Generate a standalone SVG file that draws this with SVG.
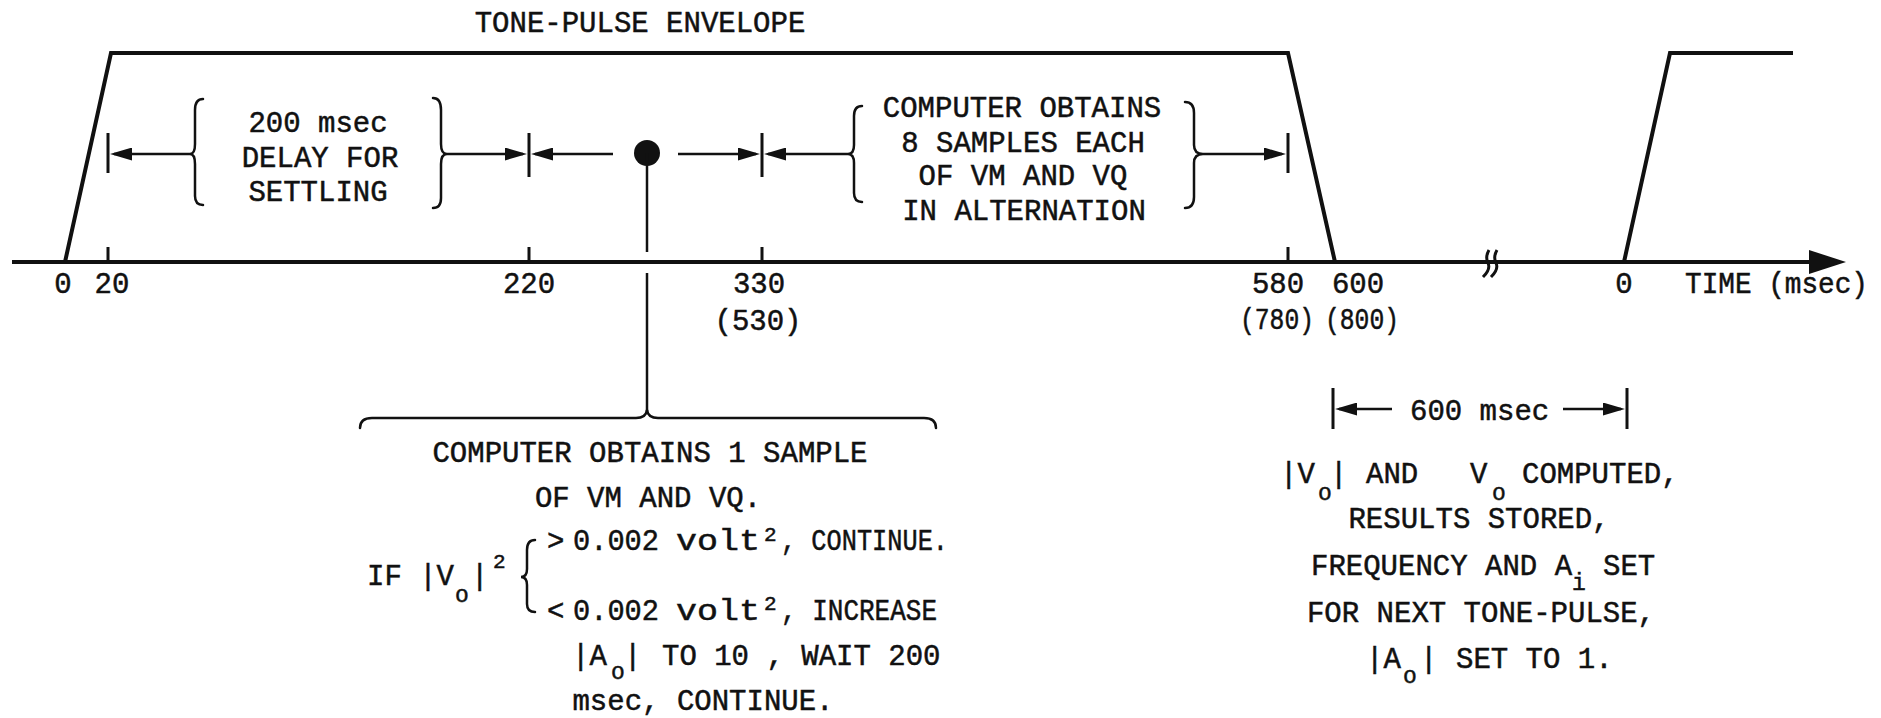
<svg xmlns="http://www.w3.org/2000/svg" width="1881" height="718" viewBox="0 0 1881 718">
<style>
.t{font-family:"Liberation Mono","DejaVu Sans Mono",monospace;font-size:29px;fill:#111;stroke:#111;stroke-width:0.5}
.m{text-anchor:middle}
.s{font-size:23px}
.p{font-size:21px}
.thick{fill:none;stroke:#111;stroke-width:4;stroke-linejoin:miter}
.bar{fill:none;stroke:#111;stroke-width:3}
.ln{fill:none;stroke:#111;stroke-width:2.5}
.br{fill:none;stroke:#111;stroke-width:2.5;stroke-linecap:round}
</style>
<defs>
<marker id="ah" viewBox="0 0 10 10" refX="8.2" refY="5" markerWidth="22" markerHeight="13" markerUnits="userSpaceOnUse" preserveAspectRatio="none" orient="auto">
<path d="M0,0 L10,5 L0,10 z" fill="#111"/>
</marker>
</defs>
<rect width="1881" height="718" fill="#fff"/>

<g id="envelope">
<line class="thick" x1="12" y1="262" x2="1815" y2="262"/>
<polygon points="1846,262 1809,250 1809,274" fill="#111"/>
<polyline class="thick" points="65,262 111,53 1288,53 1335,262"/>
<polyline class="thick" points="1624,262 1670,53 1793,53"/>
<line class="bar" x1="108" y1="247" x2="108" y2="262"/>
<line class="bar" x1="529" y1="247" x2="529" y2="262"/>
<line class="bar" x1="762" y1="247" x2="762" y2="262"/>
<line class="bar" x1="1288" y1="247" x2="1288" y2="262"/>
<path class="bar" d="M1489,250 Q1485,257 1488,263 Q1491,269 1483,277"/>
<path class="bar" d="M1497,250 Q1493,257 1496,263 Q1499,269 1491,277"/>
</g>

<g id="title">
<text class="t m" x="640" y="32">TONE-PULSE ENVELOPE</text>
</g>

<g id="axis-labels">
<text class="t m" x="63" y="293">0</text>
<text class="t m" x="112" y="293">20</text>
<text class="t m" x="529" y="293">220</text>
<text class="t m" x="759" y="293">330</text>
<text class="t m" x="758" y="330">(530)</text>
<text class="t m" x="1278" y="293">580</text>
<text class="t m" x="1358" y="293">600</text>
<text class="t" x="1240" y="329" textLength="74" lengthAdjust="spacingAndGlyphs">(780)</text>
<text class="t" x="1325" y="329" textLength="74" lengthAdjust="spacingAndGlyphs">(800)</text>
<text class="t m" x="1624" y="293">0</text>
<text class="t" x="1685" y="293" textLength="183" lengthAdjust="spacingAndGlyphs">TIME (msec)</text>
</g>

<g id="delay-note">
<path class="br" d="M203,99 Q195,99 195,110 L195,144 Q195,154 190,154 Q195,154 195,164 L195,196 Q195,205 203,205"/>
<path class="br" d="M433,98 Q441,98 441,110 L441,144 Q441,154 447,154 Q441,154 441,164 L441,198 Q441,208 433,208"/>
<text class="t m" x="318" y="132">200 msec</text>
<text class="t m" x="320" y="167">DELAY FOR</text>
<text class="t m" x="318" y="201">SETTLING</text>
</g>

<g id="samples-note">
<path class="br" d="M862,106 Q854,106 854,116 L854,145 Q854,154 848,154 Q854,154 854,163 L854,193 Q854,202 862,202"/>
<path class="br" d="M1185,102 Q1194,102 1194,113 L1194,145 Q1194,154 1203,154 Q1194,154 1194,163 L1194,197 Q1194,208 1185,208"/>
<text class="t m" x="1022" y="117">COMPUTER OBTAINS</text>
<text class="t m" x="1023" y="152">8 SAMPLES EACH</text>
<text class="t m" x="1023" y="185">OF VM AND VQ</text>
<text class="t m" x="1024" y="220">IN ALTERNATION</text>
</g>

<g id="single-sample-note">
<circle cx="647" cy="153" r="13" fill="#111"/>
<line class="ln" x1="647" y1="153" x2="647" y2="252"/>
<line class="ln" x1="647" y1="273" x2="647" y2="411"/>
<path class="br" d="M360,428 Q360,418 372,418 L636,418 Q646,418 647,410 Q648,418 658,418 L924,418 Q936,418 936,428"/>
<text class="t m" x="650" y="462">COMPUTER OBTAINS 1 SAMPLE</text>
<text class="t m" x="648" y="507">OF VM AND VQ.</text>
<text class="t" x="367" y="585">IF |V</text>
<text class="t s" x="455" y="602">o</text>
<text class="t" x="471" y="585">|</text>
<text class="t p" x="493" y="568">2</text>
<path class="br" d="M535,540 Q527,540 527,550 L527,569 Q527,577 521,577 Q527,577 527,585 L527,604 Q527,612 535,612"/>
<text class="t" x="547" y="550">&gt;</text>
<text class="t" x="573" y="550" textLength="86" lengthAdjust="spacingAndGlyphs">0.002</text>
<text class="t" x="676" y="550" textLength="84" lengthAdjust="spacingAndGlyphs">volt</text>
<text class="t p" x="764" y="541">2</text>
<text class="t" x="781" y="550" textLength="167" lengthAdjust="spacingAndGlyphs">, CONTINUE.</text>
<text class="t" x="547" y="620">&lt;</text>
<text class="t" x="573" y="620" textLength="86" lengthAdjust="spacingAndGlyphs">0.002</text>
<text class="t" x="676" y="620" textLength="84" lengthAdjust="spacingAndGlyphs">volt</text>
<text class="t p" x="764" y="610">2</text>
<text class="t" x="781" y="620" textLength="156" lengthAdjust="spacingAndGlyphs">, INCREASE</text>
<text class="t" x="572" y="665">|A</text>
<text class="t s" x="611" y="679">o</text>
<text class="t" x="624" y="665">|</text>
<text class="t" x="662" y="665">TO 10 , WAIT 200</text>
<text class="t m" x="703" y="710">msec, CONTINUE.</text>
</g>

<g id="compute-note">
<text class="t" x="1410" y="420">600 msec</text>
<text class="t" x="1280" y="483">|V</text>
<text class="t s" x="1318" y="500">o</text>
<text class="t" x="1330" y="483">|</text>
<text class="t" x="1366" y="483">AND</text>
<text class="t" x="1470" y="483">V</text>
<text class="t s" x="1492" y="500">o</text>
<text class="t" x="1522" y="483">COMPUTED,</text>
<text class="t m" x="1479" y="528">RESULTS STORED,</text>
<text class="t" x="1311" y="575">FREQUENCY AND A</text>
<text class="t s" x="1572" y="590">i</text>
<text class="t" x="1603" y="575">SET</text>
<text class="t m" x="1481" y="622">FOR NEXT TONE-PULSE,</text>
<text class="t" x="1366" y="668">|A</text>
<text class="t s" x="1403" y="683">o</text>
<text class="t" x="1420" y="668">|</text>
<text class="t" x="1456" y="668">SET TO 1.</text>
</g>

<g id="connectors">
<line class="bar" x1="108" y1="133" x2="108" y2="173"/>
<line class="bar" x1="529" y1="133" x2="529" y2="177"/>
<line class="bar" x1="762" y1="133" x2="762" y2="177"/>
<line class="bar" x1="1288" y1="133" x2="1288" y2="173"/>
<line class="ln" x1="190" y1="154" x2="114" y2="154" marker-end="url(#ah)"/>
<line class="ln" x1="447" y1="154" x2="523" y2="154" marker-end="url(#ah)"/>
<line class="ln" x1="613" y1="154" x2="535" y2="154" marker-end="url(#ah)"/>
<line class="ln" x1="678" y1="154" x2="756" y2="154" marker-end="url(#ah)"/>
<line class="ln" x1="848" y1="154" x2="768" y2="154" marker-end="url(#ah)"/>
<line class="ln" x1="1203" y1="154" x2="1282" y2="154" marker-end="url(#ah)"/>
<line class="bar" x1="1333" y1="388" x2="1333" y2="429"/>
<line class="bar" x1="1627" y1="388" x2="1627" y2="429"/>
<line class="ln" x1="1392" y1="409" x2="1339" y2="409" marker-end="url(#ah)"/>
<line class="ln" x1="1563" y1="409" x2="1621" y2="409" marker-end="url(#ah)"/>
</g>
</svg>
